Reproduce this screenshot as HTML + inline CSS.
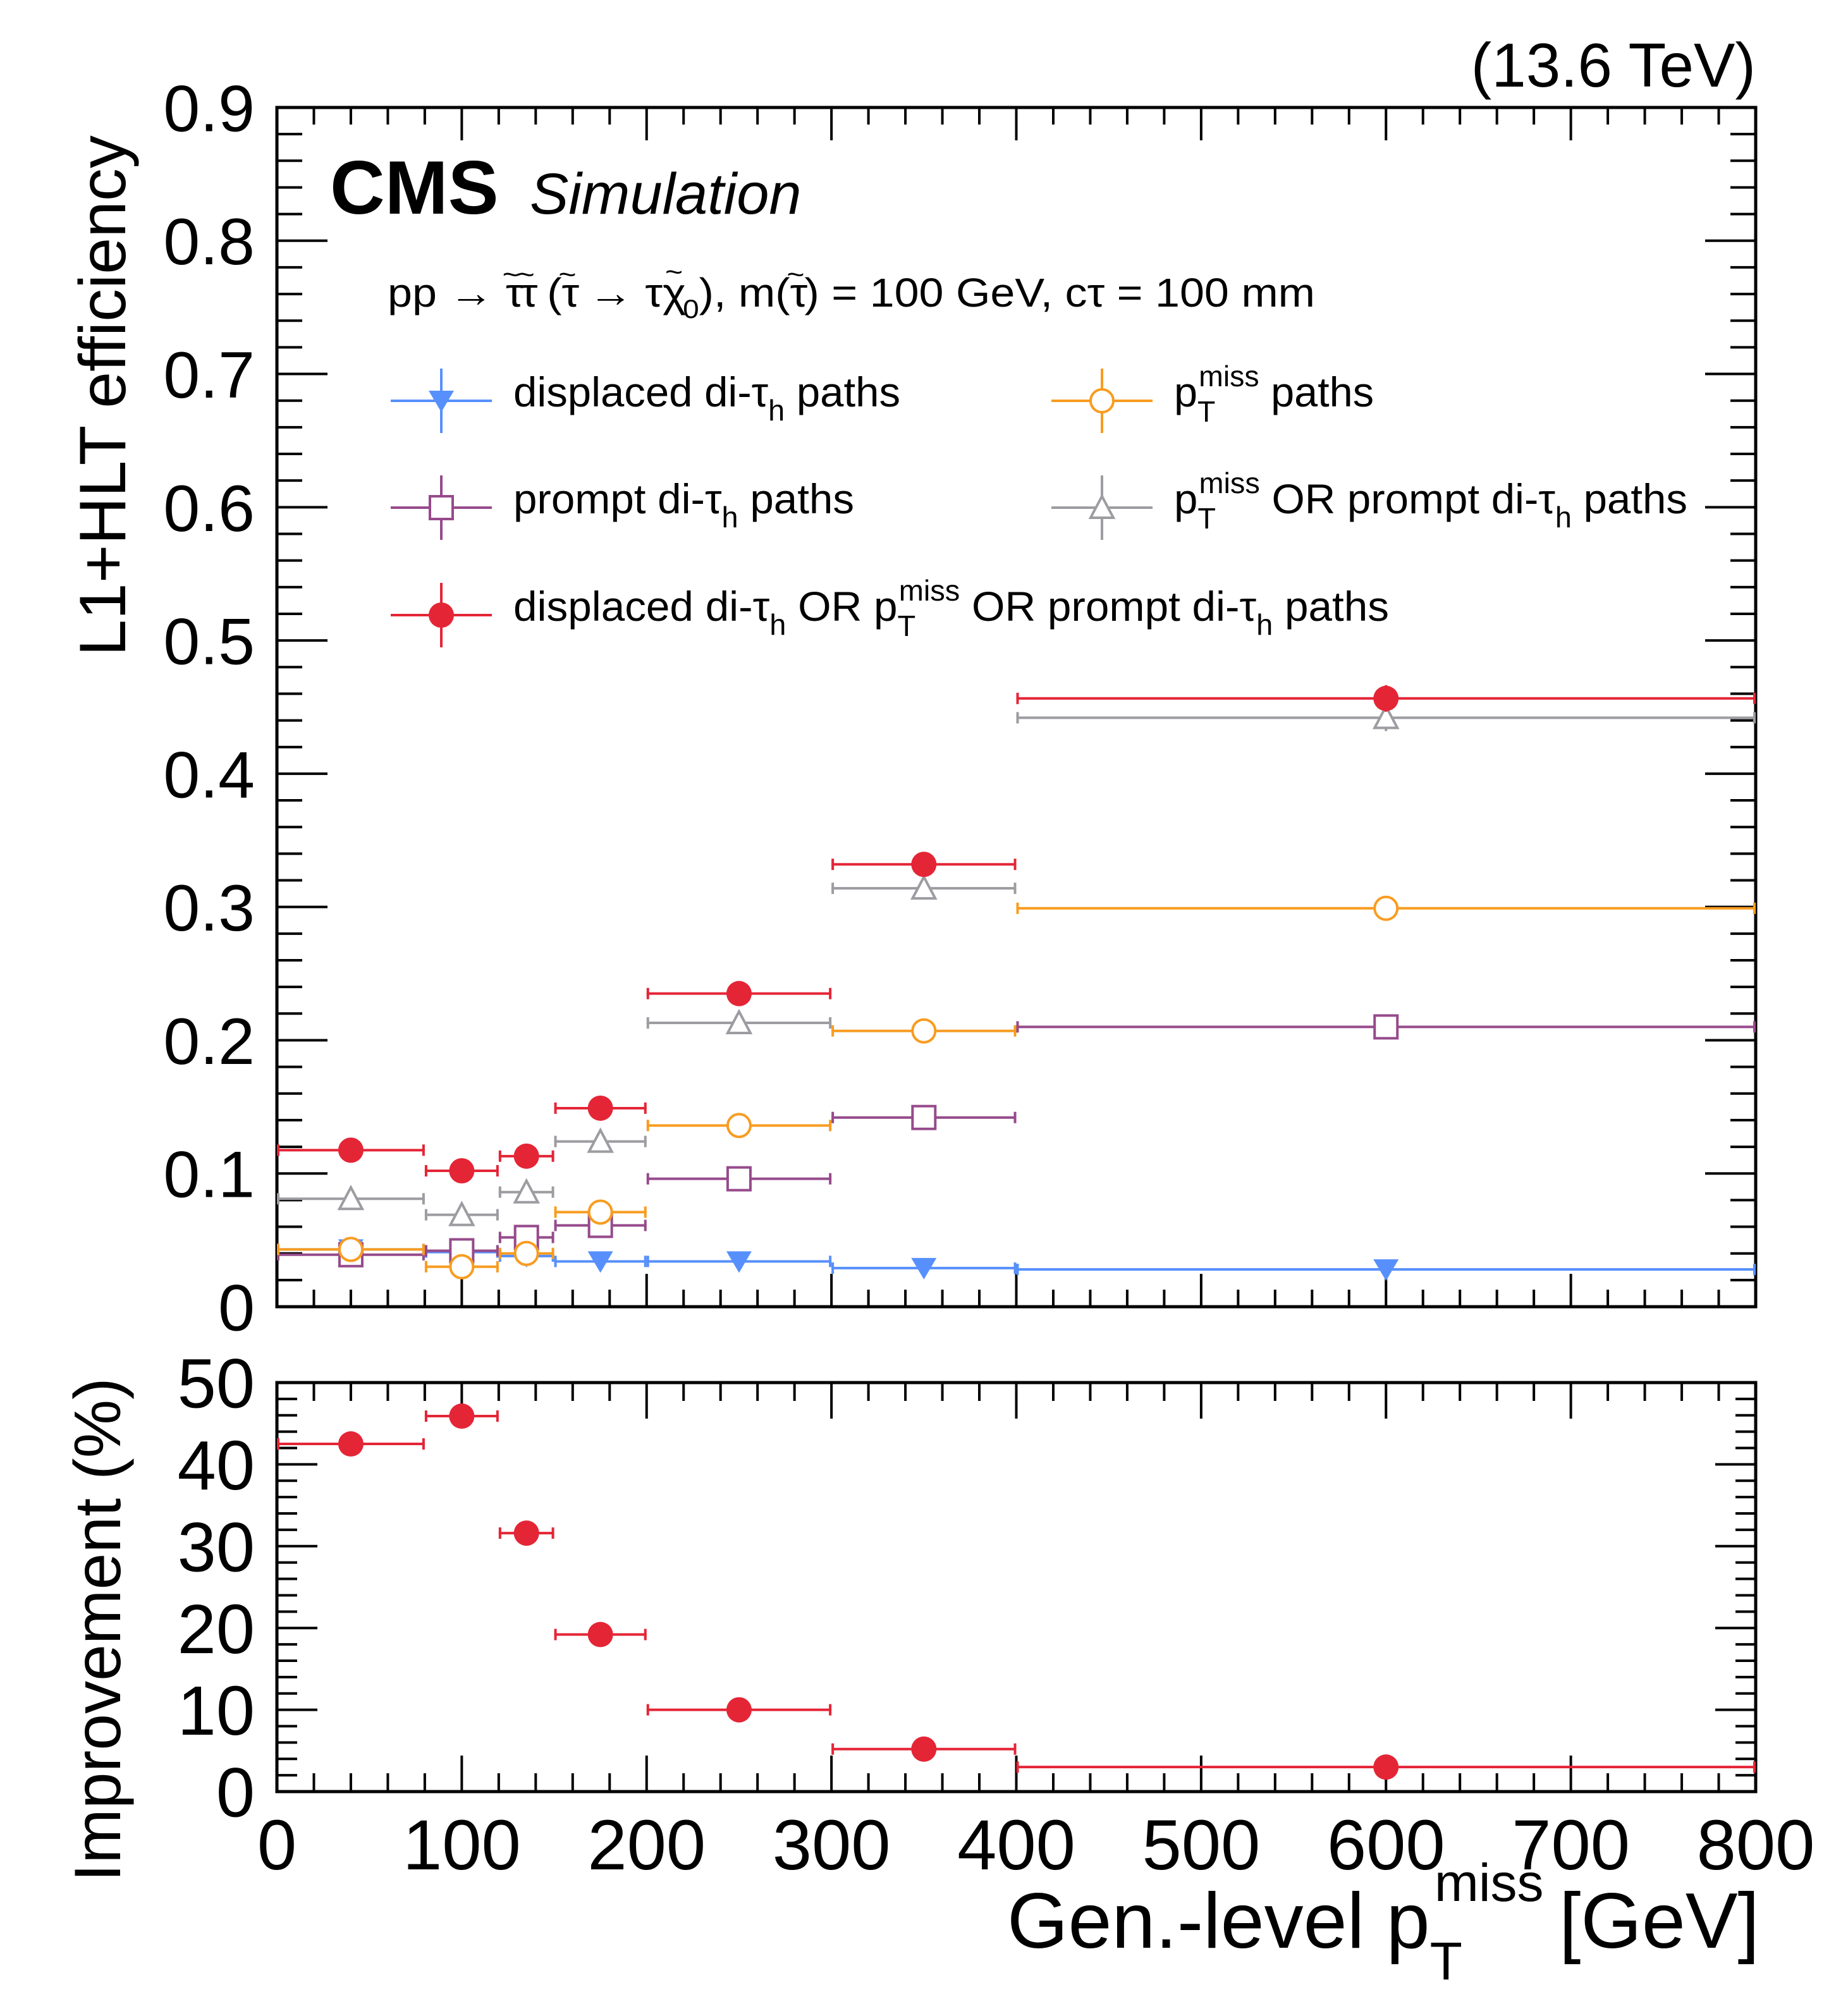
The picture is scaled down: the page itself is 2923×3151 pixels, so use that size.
<!DOCTYPE html>
<html><head><meta charset="utf-8"><style>
html,body{margin:0;padding:0;background:#fff}
svg{display:block}
text{font-family:"Liberation Sans",Arial,sans-serif;fill:#000}
</style></head><body>
<svg id="chart" width="2923" height="3151" viewBox="0 0 2923 3151" xmlns="http://www.w3.org/2000/svg">
<g id="frames"></g>
<g id="marks"></g>
<g id="labels">
<text x="2777" y="137" font-size="98" text-anchor="end">(13.6 TeV)</text>
<text x="522" y="338" font-size="120" font-weight="bold">CMS</text>
<text x="838" y="338" font-size="92" font-style="italic">Simulation</text>
<text x="613" y="485" font-size="64" textLength="1467" lengthAdjust="spacingAndGlyphs">pp → τ<tspan dx="-30" dy="-36" font-size="44">~</tspan><tspan dy="36">τ</tspan><tspan dx="-30" dy="-36" font-size="44">~</tspan><tspan dy="36"> (τ</tspan><tspan dx="-30" dy="-36" font-size="44">~</tspan><tspan dy="36"> → τχ</tspan><tspan dx="-30" dy="-40" font-size="44">~</tspan><tspan dy="58" font-size="42">0</tspan><tspan dy="-18">), m(τ</tspan><tspan dx="-30" dy="-36" font-size="44">~</tspan><tspan dy="36">) = 100 GeV, cτ = 100 mm</tspan></text>
<text transform="translate(198,626) rotate(-90)" font-size="104" text-anchor="middle">L1+HLT efficiency</text>
<text transform="translate(190,2578) rotate(-90)" font-size="104" text-anchor="middle">Improvement (%)</text>
<text x="2783" y="3081" font-size="124" text-anchor="end">Gen.-level p<tspan dy="50" font-size="84">T</tspan><tspan dy="-124" dx="-44" font-size="84">miss</tspan><tspan dy="74" dx="-10"> [GeV]</tspan></text>
</g>
<g id="legend"></g>
</svg>
<script>
// ---- data ----
const binLo = [0, 80, 120, 150, 200, 300, 400];
const binHi = [80, 120, 150, 200, 300, 400, 800];
const binCenter = [40, 100, 135, 175, 250, 350, 600];
const effDisplaced = [0.043, 0.041, 0.038, 0.034, 0.034, 0.029, 0.028];
const effPtmiss = [0.043, 0.030, 0.040, 0.071, 0.136, 0.207, 0.299];
const effPrompt = [0.039, 0.042, 0.052, 0.061, 0.096, 0.142, 0.210];
const effPtmissOrPrompt = [0.081, 0.069, 0.086, 0.124, 0.213, 0.314, 0.442];
const effAll = [0.1175, 0.102, 0.113, 0.149, 0.235, 0.332, 0.4565];
const effErr = [0.003, 0.004, 0.004, 0.005, 0.005, 0.007, 0.010];
const improvement = [42.5, 45.9, 31.6, 19.2, 10.0, 5.2, 3.0];
const xTickLabels = ["0","100","200","300","400","500","600","700","800"];
const yTickLabels = ["0","0.1","0.2","0.3","0.4","0.5","0.6","0.7","0.8","0.9"];
const rTickLabels = ["0","10","20","30","40","50"];

const NS = "http://www.w3.org/2000/svg";
const X0 = 438, X1 = 2777;
const UT = 170, UB = 2067;
const LT = 2187, LB = 2834;
const xs = v => X0 + (v / 800) * (X1 - X0);
const yu = v => UB - (v / 0.9) * (UB - UT);
const yl = v => LB - (v / 50) * (LB - LT);

function mk(tag, attrs, parent) {
  const e = document.createElementNS(NS, tag);
  for (const k in attrs) e.setAttribute(k, attrs[k]);
  parent.appendChild(e);
  return e;
}
const frames = document.getElementById('frames');
const marks = document.getElementById('marks');
const legend = document.getElementById('legend');

function panel(top, bot, yMax, yMinor, yMajor, yfn, yLabels, fs, xMajL, xMinL, yMajL, yMinL, name, showX) {
  const g = mk('g', {}, frames);
  
  
  const r = mk('rect', {x: X0, y: top, width: X1 - X0, height: bot - top, fill: 'none', stroke: '#000', 'stroke-width': 5}, g);
  
  
  for (let v = 0; v <= 800; v += 20) {
    const maj = v % 100 === 0;
    const L = maj ? xMajL : xMinL;
    const x = xs(v);
    mk('line', {x1: x, x2: x, y1: bot, y2: bot - L, stroke: '#000', 'stroke-width': 4}, g);
    mk('line', {x1: x, x2: x, y1: top, y2: top + L, stroke: '#000', 'stroke-width': 4}, g);
  }
  const n = Math.round(yMax / yMinor);
  for (let i = 0; i <= n; i++) {
    const v = i * yMinor;
    const maj = Math.abs(v / yMajor - Math.round(v / yMajor)) < 1e-6;
    const L = maj ? yMajL : yMinL;
    const y = yfn(v);
    mk('line', {x1: X0, x2: X0 + L, y1: y, y2: y, stroke: '#000', 'stroke-width': 4}, g);
    mk('line', {x1: X1, x2: X1 - L, y1: y, y2: y, stroke: '#000', 'stroke-width': 4}, g);
  }
  yLabels.forEach((lab, i) => {
    const t = mk('text', {x: 403, y: yfn(i * yMajor) + fs * 0.36, 'font-size': fs, 'text-anchor': 'end'}, g);
    t.textContent = lab;
    
    
  });
  if (showX) {
    xTickLabels.forEach((lab, i) => {
      const t = mk('text', {x: xs(i * 100), y: 2957, 'font-size': 112, 'text-anchor': 'middle'}, g);
      t.textContent = lab;
      
      
    });
  }
}
panel(UT, UB, 0.9, 0.02, 0.1, yu, yTickLabels, 104, 52, 27, 80, 40, 'efficiency', false);
panel(LT, LB, 50, 2, 10, yl, rTickLabels, 110, 57, 29, 64, 32, 'improvement', true);

function marker(g, type, color, cx, cy) {
  const s = 20;
  let e;
  if (type === 'circle') e = mk('circle', {cx, cy, r: s, fill: color}, g);
  if (type === 'ocircle') e = mk('circle', {cx, cy, r: s - 2, fill: '#fff', stroke: color, 'stroke-width': 4}, g);
  if (type === 'osquare') e = mk('rect', {x: cx - s + 2, y: cy - s + 2, width: 2 * s - 4, height: 2 * s - 4, fill: '#fff', stroke: color, 'stroke-width': 4}, g);
  if (type === 'tridown') e = mk('polygon', {points: `${cx - s},${cy - s * 0.8} ${cx + s},${cy - s * 0.8} ${cx},${cy + s * 0.9}`, fill: color}, g);
  if (type === 'otriup') e = mk('polygon', {points: `${cx - s + 2},${cy + s * 0.8} ${cx + s - 2},${cy + s * 0.8} ${cx},${cy - s * 0.9}`, fill: '#fff', stroke: color, 'stroke-width': 4}, g);
  return e;
}

function series(vals, errs, yfn, color, type, name) {
  const g = mk('g', {}, marks);
  
  
  vals.forEach((v, i) => {
    const y = yfn(v);
    const xa = xs(binLo[i]), xb = xs(binHi[i]), xc = xs(binCenter[i]);
    mk('line', {x1: xa, x2: xb, y1: y, y2: y, stroke: color, 'stroke-width': 4}, g);
    mk('line', {x1: xa + 2, x2: xa + 2, y1: y - 9, y2: y + 9, stroke: color, 'stroke-width': 4}, g);
    mk('line', {x1: xb - 2, x2: xb - 2, y1: y - 9, y2: y + 9, stroke: color, 'stroke-width': 4}, g);
    if (errs) {
      const e = errs[i];
      mk('line', {x1: xc, x2: xc, y1: yfn(v + e), y2: yfn(v - e), stroke: color, 'stroke-width': 4}, g);
    }
    const m = marker(g, type, color, xc, y);
    
    
  });
}
series(effDisplaced, null, yu, '#5790fc', 'tridown', 'series-displaced');
series(effPrompt, null, yu, '#964a8b', 'osquare', 'series-prompt');
series(effPtmiss, null, yu, '#f89c20', 'ocircle', 'series-ptmiss');
series(effPtmissOrPrompt, effErr, yu, '#9c9ca1', 'otriup', 'series-ptmiss-or-prompt');
series(effAll, effErr, yu, '#e42536', 'circle', 'series-all');
series(improvement, null, yl, '#e42536', 'circle', 'series-improvement');

// legend
const legItems = [
  {x: 698, y: 634, color: '#5790fc', type: 'tridown', name: 'legend-displaced', html: 'displaced di-τ<tspan dy="22" font-size="46">h</tspan><tspan dy="-22"> paths</tspan>', len: 612},
  {x: 1743, y: 634, color: '#f89c20', type: 'ocircle', name: 'legend-ptmiss', html: 'p<tspan dy="24" font-size="46">T</tspan><tspan dx="-26" dy="-56" font-size="46">miss</tspan><tspan dy="32"> paths</tspan>', len: 316},
  {x: 698, y: 803, color: '#964a8b', type: 'osquare', name: 'legend-prompt', html: 'prompt di-τ<tspan dy="22" font-size="46">h</tspan><tspan dy="-22"> paths</tspan>', len: 539},
  {x: 1743, y: 803, color: '#9c9ca1', type: 'otriup', name: 'legend-ptmiss-or-prompt', html: 'p<tspan dy="24" font-size="46">T</tspan><tspan dx="-26" dy="-56" font-size="46">miss</tspan><tspan dy="32"> OR prompt di-τ</tspan><tspan dy="22" font-size="46">h</tspan><tspan dy="-22"> paths</tspan>', len: 812},
  {x: 698, y: 973, color: '#e42536', type: 'circle', name: 'legend-all', html: 'displaced di-τ<tspan dy="22" font-size="46">h</tspan><tspan dy="-22"> OR p</tspan><tspan dy="24" font-size="46">T</tspan><tspan dx="-26" dy="-56" font-size="46">miss</tspan><tspan dy="32"> OR prompt di-τ</tspan><tspan dy="22" font-size="46">h</tspan><tspan dy="-22"> paths</tspan>', len: 1385}
];
legItems.forEach(it => {
  const g = mk('g', {}, legend);
  
  
  mk('line', {x1: it.x - 80, x2: it.x + 80, y1: it.y, y2: it.y, stroke: it.color, 'stroke-width': 4}, g);
  mk('line', {x1: it.x, x2: it.x, y1: it.y - 51, y2: it.y + 51, stroke: it.color, 'stroke-width': 4}, g);
  marker(g, it.type, it.color, it.x, it.y);
  const t = mk('text', {x: it.x + 114, y: it.y + 9, 'font-size': 66, textLength: it.len, lengthAdjust: 'spacingAndGlyphs'}, g);
  t.innerHTML = it.html;
});
</script>
</body></html>
